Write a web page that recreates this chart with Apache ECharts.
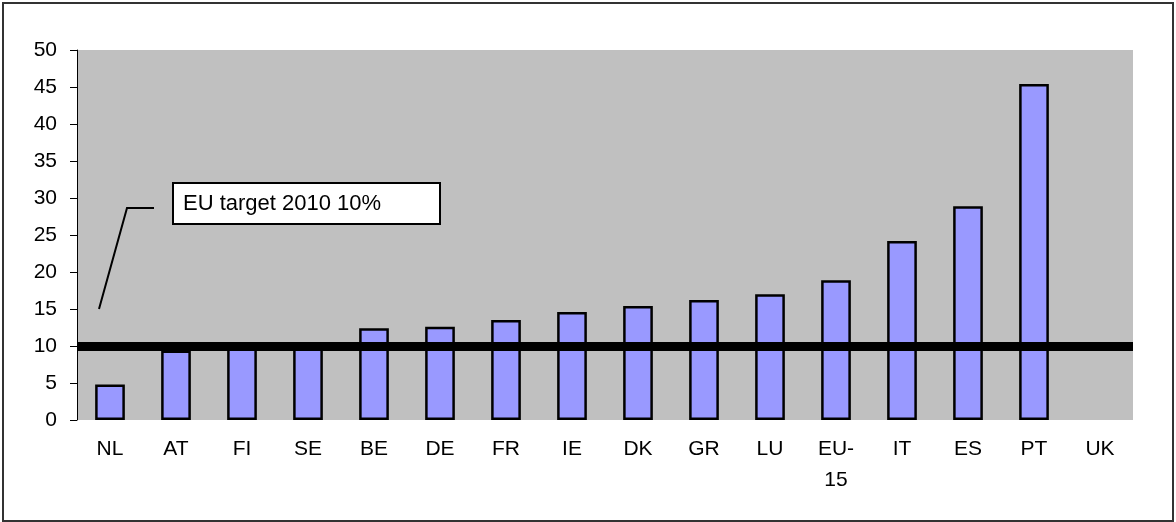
<!DOCTYPE html>
<html>
<head>
<meta charset="utf-8">
<script src="https://cdn.jsdelivr.net/npm/echarts@6/dist/echarts.min.js"></script>
<style>
  html, body { margin: 0; padding: 0; background: #fff; }
  #frame {
    position: absolute; left: 2px; top: 2px;
    width: 1168px; height: 516px;
    border: 2px solid #333;
  }
  #chart { position: absolute; left: 0; top: 0; width: 1176px; height: 522px; }
</style>
</head>
<body>
<div id="frame"></div>
<div id="chart"></div>
<script>
// countries, sorted as in the source
const countries = ['NL', 'AT', 'FI', 'SE', 'BE', 'DE', 'FR', 'IE', 'DK', 'GR', 'LU', 'EU-\n15', 'IT', 'ES', 'PT', 'UK'];
// share values (%), UK has no bar
const shares = [4.8, 9.4, 10.0, 9.9, 12.4, 12.6, 13.5, 14.6, 15.4, 16.2, 17.0, 18.9, 24.2, 28.9, 45.4, null];
const targetValue = 10;
const targetLabel = 'EU target 2010 10%';
const yTicks = { min: 0, max: 50, interval: 5 };

const font = 'Liberation Sans, Arial, sans-serif';
const chart = echarts.init(document.getElementById('chart'));

chart.setOption({
  animation: false,
  grid: {
    left: 77, right: 43, top: 50, bottom: 102,
    show: true,
    backgroundColor: '#C0C0C0',
    borderWidth: 0
  },
  xAxis: {
    type: 'category',
    data: countries,
    axisLine: { show: false },
    axisTick: { show: false },
    axisLabel: {
      color: '#000', fontFamily: font, fontSize: 21,
      lineHeight: 31, margin: 14, interval: 0
    }
  },
  yAxis: {
    type: 'value',
    min: yTicks.min, max: yTicks.max, interval: yTicks.interval,
    axisLine: { show: true, lineStyle: { color: '#000', width: 1 } },
    axisTick: { show: true, length: 7, lineStyle: { color: '#000' } },
    axisLabel: { color: '#000', fontFamily: font, fontSize: 21, margin: 20 },
    splitLine: { show: false }
  },
  series: [{
    type: 'bar',
    data: shares,
    barWidth: '45%',
    itemStyle: { color: '#9999FF', borderColor: '#000', borderWidth: 2.5 },
    markLine: {
      silent: true,
      symbol: 'none',
      label: { show: false },
      lineStyle: { color: '#000', width: 9, type: 'solid' },
      data: [{ yAxis: targetValue }]
    }
  }]
});

// annotation callout anchored near the first bar
const anchor = chart.convertToPixel({ xAxisIndex: 0, yAxisIndex: 0 }, [0, 15]);
const ax = anchor[0] - 11, ay = anchor[1];
const elbow = [ax + 28, ay - 101];
chart.setOption({
  graphic: [
    {
      type: 'polyline',
      shape: { points: [[ax, ay], elbow, [elbow[0] + 27, elbow[1]]] },
      style: { stroke: '#000', lineWidth: 2, fill: null },
      z: 100
    },
    {
      type: 'rect',
      shape: { x: elbow[0] + 46, y: elbow[1] - 25, width: 267, height: 41 },
      style: { fill: '#fff', stroke: '#000', lineWidth: 2 },
      z: 100
    },
    {
      type: 'text',
      x: elbow[0] + 56, y: elbow[1] - 4,
      style: {
        text: targetLabel, fill: '#000', font: '22px ' + font,
        verticalAlign: 'middle', align: 'left'
      },
      z: 101
    }
  ]
});
</script>
</body>
</html>
